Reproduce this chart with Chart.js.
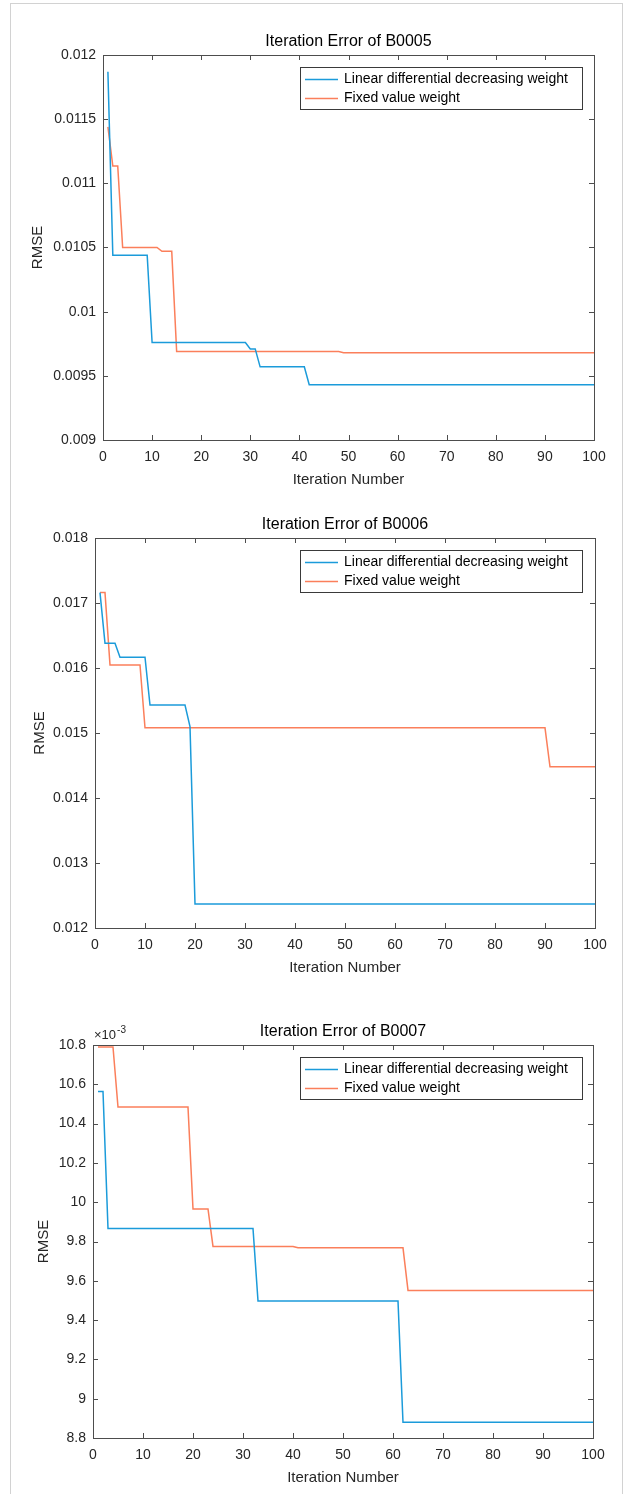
<!DOCTYPE html>
<html>
<head>
<meta charset="utf-8">
<script src="https://cdn.jsdelivr.net/npm/chart.js@4.4.1/dist/chart.umd.min.js"></script>
<style>
  html, body { margin: 0; padding: 0; background: #fff; }
  #page { position: relative; width: 629px; height: 1494px; overflow: hidden; }
  #frame { position: absolute; left: 10px; top: 3px; width: 613px; height: 1510px;
           border: 1px solid #d2d2d2; box-sizing: border-box; pointer-events: none; }
  .panel { position: absolute; left: 0; width: 629px; }
  .panel canvas { display: block; }
</style>
</head>
<body>
<div id="page">
  <div class="panel" style="top:0"><canvas id="c1" width="629" height="500"></canvas></div>
  <div class="panel" style="top:500px"><canvas id="c2" width="629" height="490"></canvas></div>
  <div class="panel" style="top:990px"><canvas id="c3" width="629" height="504"></canvas></div>
  <div id="frame"></div>
</div>
<script>
// Three MATLAB-style convergence plots: RMSE per iteration for two weighting schemes.
// Series are stored as the iterations where the curve changes.

const FONT = "'Liberation Sans', Arial, Helvetica, sans-serif";
const BLUE = "#1b9bda";
const ORANGE = "#fb7f5b";
const AXIS = "#4d4d4d";
const TEXT = "#262626";

const SERIES_LABELS = ["Linear differential decreasing weight", "Fixed value weight"];
const ITER_TICKS = [0, 10, 20, 30, 40, 50, 60, 70, 80, 90, 100];

// B0005
const b5LinearX = [1, 2, 9, 10, 29, 30, 31, 32, 41, 42, 100];
const b5LinearY = [0.01187, 0.01044, 0.01044, 0.00976, 0.00976, 0.00971, 0.00971, 0.00957, 0.00957, 0.00943, 0.00943];
const b5FixedX = [1, 2, 3, 4, 11, 12, 14, 15, 48, 49, 100];
const b5FixedY = [0.01144, 0.011135, 0.011135, 0.0105, 0.0105, 0.01047, 0.01047, 0.00969, 0.00969, 0.00968, 0.00968];
const b5YTicks = [0.009, 0.0095, 0.01, 0.0105, 0.011, 0.0115, 0.012];
const b5YLabels = ["0.009", "0.0095", "0.01", "0.0105", "0.011", "0.0115", "0.012"];

// B0006
const b6LinearX = [1, 2, 4, 5, 10, 11, 18, 19, 20, 100];
const b6LinearY = [0.01716, 0.01638, 0.01638, 0.016165, 0.016165, 0.01543, 0.01543, 0.0151, 0.01237, 0.01237];
const b6FixedX = [1, 2, 3, 9, 10, 90, 91, 100];
const b6FixedY = [0.01716, 0.01716, 0.016047, 0.016047, 0.01508, 0.01508, 0.01448, 0.01448];
const b6YTicks = [0.012, 0.013, 0.014, 0.015, 0.016, 0.017, 0.018];
const b6YLabels = ["0.012", "0.013", "0.014", "0.015", "0.016", "0.017", "0.018"];

// B0007 (values in units of 10^-3)
const b7LinearX = [1, 2, 3, 32, 33, 61, 62, 100];
const b7LinearY = [10.563, 10.563, 9.866, 9.866, 9.497, 9.497, 8.88, 8.88];
const b7FixedX = [1, 4, 5, 19, 20, 23, 24, 40, 41, 62, 63, 100];
const b7FixedY = [10.79, 10.79, 10.484, 10.484, 9.966, 9.966, 9.775, 9.775, 9.768, 9.768, 9.551, 9.551];
const b7YTicks = [8.8, 9, 9.2, 9.4, 9.6, 9.8, 10, 10.2, 10.4, 10.6, 10.8];
const b7YLabels = ["8.8", "9", "9.2", "9.4", "9.6", "9.8", "10", "10.2", "10.4", "10.6", "10.8"];

const pts = (xs, ys) => xs.map((x, i) => ({ x, y: ys[i] }));

// Box, inward ticks on all four sides, title, legend and exponent label.
const matlabAxes = {
  id: "matlabAxes",
  afterDatasetsDraw(chart, args, o) {
    const { ctx, chartArea: a, scales } = chart;
    ctx.save();
    ctx.strokeStyle = AXIS;
    ctx.lineWidth = 1;
    ctx.strokeRect(Math.round(a.left) + 0.5, Math.round(a.top) + 0.5,
      Math.round(a.right - a.left), Math.round(a.bottom - a.top));
    ctx.beginPath();
    scales.x.ticks.forEach((t) => {
      const px = Math.round(scales.x.getPixelForValue(t.value)) + 0.5;
      ctx.moveTo(px, a.bottom); ctx.lineTo(px, a.bottom - 5);
      ctx.moveTo(px, a.top); ctx.lineTo(px, a.top + 5);
    });
    scales.y.ticks.forEach((t) => {
      const py = Math.round(scales.y.getPixelForValue(t.value)) + 0.5;
      ctx.moveTo(a.left, py); ctx.lineTo(a.left + 5, py);
      ctx.moveTo(a.right, py); ctx.lineTo(a.right - 5, py);
    });
    ctx.stroke();
    ctx.restore();
  },
  afterDraw(chart, args, o) {
    const { ctx, chartArea: a } = chart;
    ctx.save();
    // title
    ctx.fillStyle = "#000";
    ctx.font = `16px ${FONT}`;
    ctx.textAlign = "center";
    ctx.textBaseline = "middle";
    ctx.fillText(o.title, (a.left + a.right) / 2, a.top - 13);

    // exponent
    if (o.exponent) {
      ctx.fillStyle = TEXT;
      ctx.textAlign = "left";
      ctx.textBaseline = "alphabetic";
      ctx.font = `13px ${FONT}`;
      const bx = a.left + 1, by = a.top - 6;
      ctx.fillText("×10", bx, by);
      const w = ctx.measureText("×10").width;
      ctx.font = `10px ${FONT}`;
      ctx.fillText(o.exponent, bx + w + 1, by - 6);
    }

    // legend
    const lx = 300, ly = a.top + 12, lw = 282, lh = 42;
    ctx.fillStyle = "#fff";
    ctx.fillRect(lx, ly, lw, lh);
    ctx.strokeStyle = "#3a3a3a";
    ctx.lineWidth = 1;
    ctx.strokeRect(lx + 0.5, Math.round(ly) + 0.5, lw, lh);
    ctx.font = `14px ${FONT}`;
    ctx.textAlign = "left";
    ctx.textBaseline = "middle";
    chart.data.datasets.forEach((ds, i) => {
      const ry = Math.round(ly + 11.5 + i * 19) + 0.5;
      ctx.strokeStyle = ds.borderColor;
      ctx.lineWidth = 1.5;
      ctx.beginPath();
      ctx.moveTo(lx + 5, ry); ctx.lineTo(lx + 38, ry);
      ctx.stroke();
      ctx.fillStyle = "#000";
      ctx.fillText(ds.label, lx + 44, ry);
    });
    ctx.restore();
  },
};

function makeChart(id, cfg) {
  const canvas = document.getElementById(id);
  return new Chart(canvas, {
    type: "line",
    data: {
      datasets: [
        { label: SERIES_LABELS[0], data: pts(cfg.linearX, cfg.linearY), borderColor: BLUE },
        { label: SERIES_LABELS[1], data: pts(cfg.fixedX, cfg.fixedY), borderColor: ORANGE },
      ].map((d) => ({ ...d, borderWidth: 1.5, pointRadius: 0, tension: 0, fill: false })),
    },
    options: {
      responsive: false,
      animation: false,
      events: [],
      layout: {
        padding: { top: cfg.top, left: 0, right: 629 - cfg.right, bottom: canvas.height - cfg.bottom - 50 },
      },
      plugins: {
        legend: { display: false },
        tooltip: { enabled: false },
        matlabAxes: { title: cfg.title, exponent: cfg.exponent },
      },
      scales: {
        x: {
          type: "linear",
          min: 0, max: 100,
          afterBuildTicks: (s) => { s.ticks = ITER_TICKS.map((v) => ({ value: v })); },
          afterFit: (s) => { s.height = 50; },
          grid: { display: false, drawTicks: false },
          border: { display: false },
          ticks: { color: TEXT, font: { family: FONT, size: 14 }, padding: 9, maxRotation: 0 },
          title: { display: true, text: "Iteration Number", color: TEXT,
                   font: { family: FONT, size: 15 }, padding: { top: 0, bottom: 1 } },
        },
        y: {
          type: "linear",
          min: cfg.yTicks[0], max: cfg.yTicks[cfg.yTicks.length - 1],
          afterBuildTicks: (s) => { s.ticks = cfg.yTicks.map((v) => ({ value: v })); },
          afterFit: (s) => { s.width = cfg.left; },
          grid: { display: false, drawTicks: false },
          border: { display: false },
          ticks: { color: TEXT, font: { family: FONT, size: 14 }, padding: 7,
                   callback: (v, i) => cfg.yLabels[i] },
          title: { display: true, text: "RMSE", color: TEXT,
                   font: { family: FONT, size: 15 }, padding: { top: cfg.rmseX - 9, bottom: 0 } },
        },
      },
    },
    plugins: [matlabAxes],
  });
}

makeChart("c1", {
  title: "Iteration Error of B0005",
  linearX: b5LinearX, linearY: b5LinearY, fixedX: b5FixedX, fixedY: b5FixedY,
  yTicks: b5YTicks, yLabels: b5YLabels,
  left: 103, right: 594, top: 55, bottom: 440, rmseX: 38,
});
makeChart("c2", {
  title: "Iteration Error of B0006",
  linearX: b6LinearX, linearY: b6LinearY, fixedX: b6FixedX, fixedY: b6FixedY,
  yTicks: b6YTicks, yLabels: b6YLabels,
  left: 95, right: 595, top: 38, bottom: 428, rmseX: 40,
});
makeChart("c3", {
  title: "Iteration Error of B0007", exponent: "-3",
  linearX: b7LinearX, linearY: b7LinearY, fixedX: b7FixedX, fixedY: b7FixedY,
  yTicks: b7YTicks, yLabels: b7YLabels,
  left: 93, right: 593, top: 55, bottom: 448, rmseX: 44,
});
</script>
</body>
</html>
